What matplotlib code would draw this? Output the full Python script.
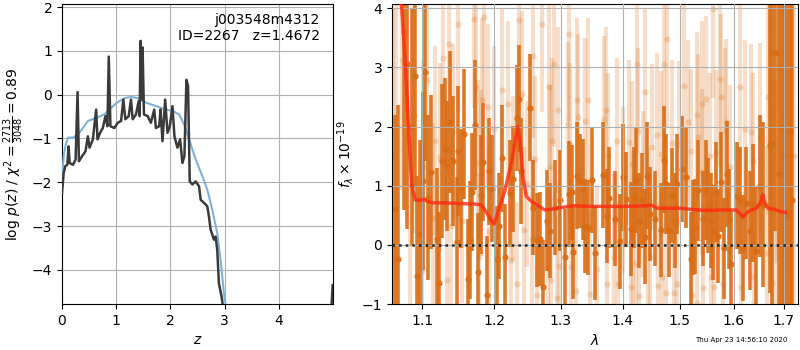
"""
Redshift fit summary: log p(z) on the left, grism spectrum + model on the right
"""
import numpy as np
import matplotlib
matplotlib.use('Agg')
import matplotlib.pyplot as plt
from matplotlib.ticker import FixedLocator, FuncFormatter, NullLocator

# ---- left panel: log p(z) ----
z_chi = [0.000, 0.031, 0.061, 0.098, 0.122, 0.141, 0.202, 0.251, 0.287, 0.312,
         0.373, 0.434, 0.477, 0.508, 0.569, 0.630, 0.654, 0.703, 0.752, 0.801,
         0.838, 0.862, 0.893, 0.966, 1.028, 1.089, 1.131, 1.168, 1.229, 1.272,
         1.303, 1.364, 1.413, 1.431, 1.450, 1.468, 1.486, 1.511, 1.578, 1.639,
         1.700, 1.731, 1.792, 1.817, 1.853, 1.902, 1.945, 1.988, 2.037, 2.073,
         2.128, 2.177, 2.220, 2.257, 2.294, 2.324, 2.355, 2.404, 2.465, 2.526,
         2.557, 2.618, 2.679, 2.709, 2.740, 2.801, 2.832, 2.862, 2.893, 2.942,
         2.985, 3.020, np.nan, 4.965, 4.990]
logp_chi = [-2.24, -1.79, -1.63, -1.60, -1.18, -1.56, -1.60, -1.48, 0.06, -1.52,
            -1.40, -1.29, -0.95, -1.21, -1.02, -0.34, -1.02, -0.87, -0.76, -0.49,
            -0.72, 0.87, -0.72, -0.76, -0.64, -0.60, -0.11, -0.56, -0.49, -0.11,
            -0.56, -0.45, -0.15, -0.49, 1.23, -0.11, 1.08, -0.45, -0.49, -0.64,
            -0.34, -0.76, -0.72, -0.34, -1.06, -0.11, -0.87, -0.72, -0.26, -0.95,
            -1.21, -1.02, -1.56, -1.40, 0.34, 0.20, -1.98, -2.05, -1.98, -2.09,
            -2.40, -2.47, -2.55, -2.78, -3.08, -3.31, -3.24, -3.54, -4.31, -4.61,
            -4.99, -5.40, np.nan, -4.90, -4.35]

z_prior = [0.000, 0.031, 0.061, 0.110, 0.202, 0.294, 0.385, 0.477, 0.630, 0.783,
           0.905, 1.028, 1.150, 1.272, 1.394, 1.547, 1.731, 1.914, 2.037, 2.159,
           2.251, 2.343, 2.465, 2.587, 2.679, 2.771, 2.862, 2.924, 2.985, 3.015,
           3.046]
logp_prior = [-1.94, -1.40, -1.18, -0.98, -0.98, -0.91, -0.76, -0.60, -0.53, -0.45,
              -0.30, -0.17, -0.08, -0.05, -0.08, -0.18, -0.26, -0.34, -0.37, -0.45,
              -0.68, -1.02, -1.48, -1.86, -2.17, -2.63, -3.16, -3.77, -4.53, -4.78,
              -5.15]

# ---- right panel: spectrum ----
wave_dark = [1.0650, 1.0687, 1.0765, 1.0800, 1.0869, 1.0908, 1.0934, 1.0974, 1.1013, 1.1040,
             1.1080, 1.1120, 1.1196, 1.1227, 1.1267, 1.1308, 1.1336, 1.1376, 1.1418, 1.1469,
             1.1487, 1.1528, 1.1570, 1.1621, 1.1653, 1.1681, 1.1723, 1.1761, 1.1804, 1.1836,
             1.1889, 1.1922, 1.1961, 1.2042, 1.2066, 1.2114, 1.2154, 1.2227, 1.2276, 1.2326,
             1.2360, 1.2390, 1.2529, 1.2565, 1.2626, 1.2676, 1.2726, 1.2778, 1.2829, 1.2906,
             1.2984, 1.3063, 1.3126, 1.3168, 1.3193, 1.3247, 1.3300, 1.3353, 1.3380, 1.3433,
             1.3488, 1.3541, 1.3677, 1.3733, 1.3776, 1.3870, 1.3954, 1.4009, 1.4067, 1.4152,
             1.4196, 1.4237, 1.4282, 1.4333, 1.4380, 1.4419, 1.4466, 1.4553, 1.4658, 1.4711,
             1.4759, 1.4805, 1.4858, 1.4912, 1.4948, 1.5045, 1.5118, 1.5195, 1.5237, 1.5268,
             1.5329, 1.5421, 1.5471, 1.5514, 1.5564, 1.5607, 1.5658, 1.5702, 1.5766, 1.5815,
             1.5880, 1.5911, 1.5957, 1.6072, 1.6130, 1.6181, 1.6247, 1.6312, 1.6377, 1.6444,
             1.6509, 1.6574, 1.6708, 1.6754, 1.6809, 1.6900, 1.6960, 1.7010, 1.7060, 1.7115,
             1.7171]
flux_dark = [0.60, -0.24, 3.59, 3.06, 1.99, 2.86, -0.53, 0.18, 1.08, 2.92,
             0.80, 1.23, 0.10, -0.64, 1.42, 1.62, 1.33, 2.08, 1.42, 0.04,
             1.59, 0.95, 1.88, -0.57, 0.08, 0.89, 2.03, -0.46, 0.85, 1.40,
             -0.85, 1.24, 0.95, -0.24, 0.32, 1.46, -0.21, 0.87, 1.11, 2.14,
             2.47, 1.25, 2.32, 0.63, 0.08, 0.10, -0.71, 0.41, 0.24, 0.63,
             0.75, -0.20, 0.86, 0.89, -0.12, 1.17, 1.08, 0.94, 0.32, 0.29,
             1.10, -0.14, 1.18, 0.49, 0.80, 0.44, 0.06, 1.14, 0.77, 0.27,
             0.80, 1.10, 0.41, 0.75, 0.14, 1.17, 0.52, 0.44, 0.25, 1.44,
             1.03, 0.25, 0.83, 0.41, 1.03, 1.28, 1.14, -0.24, 0.29, 0.31,
             0.92, 0.44, 0.93, 0.66, 0.41, 0.21, 0.89, 0.15, 1.06, -0.06,
             1.20, 0.44, -0.33, 0.83, 0.75, -0.05, 0.71, 0.24, 0.71, -0.10,
             1.00, 0.68, 1.68, 1.72, 3.24, 1.20, 2.00, 1.50, 0.49, 1.93,
             0.76]
err_dark = [1.60, 2.60, 3.00, 2.80, 2.00, 1.90, 1.70, 1.60, 1.50, 1.50,
            1.40, 1.30, 1.20, 1.20, 1.30, 1.20, 1.10, 1.20, 1.10, 1.10,
            1.10, 1.00, 1.10, 1.00, 1.00, 1.00, 1.10, 1.00, 1.00, 1.00,
            1.00, 0.90, 0.90, 0.90, 0.90, 0.90, 0.90, 0.90, 0.90, 0.90,
            0.90, 0.90, 0.90, 0.80, 0.80, 0.80, 0.80, 0.85, 0.80, 0.80,
            0.85, 0.80, 0.90, 0.80, 0.80, 0.90, 0.80, 0.85, 0.80, 0.80,
            0.90, 0.80, 0.90, 0.80, 0.85, 0.80, 0.80, 0.90, 0.80, 0.80,
            0.85, 0.90, 0.80, 0.80, 0.80, 0.90, 0.80, 0.80, 0.80, 0.90,
            0.85, 0.80, 0.80, 0.80, 0.85, 0.90, 0.85, 0.80, 0.80, 0.80,
            0.85, 0.80, 0.85, 0.80, 0.80, 0.80, 0.85, 0.80, 0.85, 0.85,
            0.90, 0.85, 0.90, 0.90, 0.90, 0.90, 0.95, 1.00, 1.00, 1.10,
            1.20, 1.40, 2.50, 2.80, 3.00, 3.50, 4.00, 4.00, 4.00, 4.50,
            4.50]

wave_light = [1.0620, 1.0660, 1.0735, 1.0840, 1.0890, 1.1004, 1.1017, 1.1062, 1.1142, 1.1173,
              1.1241, 1.1286, 1.1340, 1.1367, 1.1384, 1.1422, 1.1482, 1.1537, 1.1713, 1.1737,
              1.1770, 1.1784, 1.1805, 1.1818, 1.1855, 1.1913, 1.1923, 1.1994, 1.2115, 1.2202,
              1.2237, 1.2276, 1.2326, 1.2364, 1.2409, 1.2435, 1.2475, 1.2550, 1.2575, 1.2601,
              1.2626, 1.2711, 1.2803, 1.2818, 1.2837, 1.2852, 1.2864, 1.2891, 1.2932, 1.2958,
              1.2969, 1.3115, 1.3131, 1.3142, 1.3158, 1.3237, 1.3260, 1.3274, 1.3380, 1.3434,
              1.3461, 1.3570, 1.3690, 1.3723, 1.3736, 1.3761, 1.3855, 1.3910, 1.3927, 1.4011,
              1.4112, 1.4136, 1.4153, 1.4170, 1.4227, 1.4238, 1.4256, 1.4283, 1.4352, 1.4381,
              1.4439, 1.4468, 1.4508, 1.4585, 1.4613, 1.4661, 1.4687, 1.4714, 1.4749, 1.4772,
              1.4850, 1.4891, 1.4950, 1.4987, 1.5078, 1.5151, 1.5200, 1.5227, 1.5303, 1.5315,
              1.5333, 1.5396, 1.5410, 1.5425, 1.5475, 1.5550, 1.5569, 1.5612, 1.5626, 1.5663,
              1.5738, 1.5767, 1.5790, 1.5833, 1.5865, 1.5928, 1.6121, 1.6154, 1.6218, 1.6349,
              1.6382, 1.6401, 1.6513, 1.6659, 1.6683, 1.6713, 1.6743, 1.6763, 1.6814, 1.6850,
              1.6900, 1.6950, 1.7000, 1.7080, 1.7120, 1.7200]
flux_light = [1.50, 2.00, 3.12, 1.00, 2.20, -0.38, 1.31, 2.78, 0.46, 1.76,
              1.48, 3.16, -0.60, 3.40, 0.32, 1.90, 3.74, 0.41, 3.82, 2.66,
              1.38, -0.21, 1.21, 2.44, 3.85, 2.33, 0.24, 1.96, 2.61, 2.38,
              -0.26, 1.12, -0.67, 3.80, 2.55, 0.25, 1.03, 0.10, 3.20, 1.45,
              -0.84, 3.74, -0.37, 2.66, 1.31, -0.60, 1.76, 3.05, -0.89, 2.28,
              -0.36, 2.03, 3.57, 1.68, -0.37, -0.78, 2.44, 2.16, 2.09, 2.44,
              -0.83, -0.41, 2.13, 2.28, -0.67, 1.51, -0.21, 1.76, -0.66, 0.93,
              1.73, -0.72, 1.37, 0.18, -0.30, 3.05, 1.93, -0.86, 0.86, 2.59,
              0.24, -0.21, 1.65, 1.85, -0.69, 1.54, -0.55, 3.05, -0.82, 3.48,
              1.72, -0.82, -0.67, 1.71, 2.69, 2.07, 1.58, -0.84, 2.19, -0.98,
              1.82, 2.38, 1.23, -0.73, 2.47, 1.51, -0.55, 3.99, -0.71, 1.55,
              2.81, 2.50, -0.66, 1.93, 2.08, 1.31, 2.66, -0.72, 1.96, 1.90,
              1.41, -0.54, 1.81, -0.13, 2.50, 3.73, 2.61, -0.64, 0.28, 2.50,
              3.00, 1.50, 2.20, 1.00, 2.50, 1.50]
err_light = [2.50, 2.50, 2.20, 2.00, 2.00, 1.80, 1.80, 1.70, 1.60, 1.60,
             1.60, 1.50, 1.50, 1.50, 1.50, 1.50, 1.50, 1.40, 1.50, 1.50,
             1.40, 1.40, 1.40, 1.40, 1.50, 1.40, 1.40, 1.40, 1.40, 1.40,
             1.40, 1.40, 1.40, 1.50, 1.40, 1.40, 1.40, 1.40, 1.40, 1.40,
             1.40, 1.50, 1.40, 1.40, 1.40, 1.40, 1.40, 1.40, 1.40, 1.40,
             1.40, 1.40, 1.50, 1.40, 1.40, 1.40, 1.40, 1.40, 1.40, 1.40,
             1.40, 1.40, 1.40, 1.40, 1.40, 1.40, 1.40, 1.40, 1.40, 1.40,
             1.40, 1.40, 1.40, 1.40, 1.40, 1.50, 1.40, 1.40, 1.40, 1.40,
             1.40, 1.40, 1.40, 1.40, 1.40, 1.40, 1.40, 1.50, 1.40, 1.50,
             1.40, 1.40, 1.40, 1.40, 1.40, 1.40, 1.40, 1.40, 1.40, 1.40,
             1.40, 1.40, 1.40, 1.40, 1.40, 1.40, 1.40, 1.50, 1.40, 1.40,
             1.50, 1.40, 1.40, 1.40, 1.40, 1.40, 1.50, 1.50, 1.50, 1.50,
             1.50, 1.50, 1.60, 1.80, 2.00, 2.20, 2.40, 2.40, 2.50, 2.80,
             3.00, 3.00, 3.00, 3.00, 3.00, 3.00]

wave_model = [1.0700, 1.0735, 1.0770, 1.0800, 1.0830, 1.0865, 1.0910, 1.0970, 1.1030, 1.1080,
              1.1150, 1.1300, 1.1500, 1.1700, 1.1800, 1.1850, 1.1900, 1.1950, 1.1996, 1.2050,
              1.2150, 1.2250, 1.2310, 1.2340, 1.2380, 1.2420, 1.2470, 1.2550, 1.2650, 1.2750,
              1.2850, 1.3000, 1.3200, 1.3500, 1.4000, 1.4400, 1.4500, 1.4600, 1.5000, 1.5200,
              1.5500, 1.5800, 1.6050, 1.6120, 1.6180, 1.6230, 1.6300, 1.6450, 1.6530, 1.6570,
              1.6620, 1.6680, 1.6800, 1.6950, 1.7030]
flux_model = [4.30, 4.00, 3.30, 2.60, 1.80, 1.00, 0.76, 0.75, 0.77, 0.73,
              0.71, 0.71, 0.70, 0.69, 0.68, 0.62, 0.52, 0.42, 0.35, 0.55,
              0.90, 1.40, 1.80, 2.00, 1.75, 1.15, 0.82, 0.73, 0.66, 0.59,
              0.60, 0.63, 0.66, 0.65, 0.65, 0.66, 0.67, 0.62, 0.62, 0.60,
              0.58, 0.59, 0.59, 0.53, 0.47, 0.52, 0.57, 0.62, 0.72, 0.85,
              0.70, 0.62, 0.60, 0.56, 0.55]

lam_ticks = [1.1, 1.2, 1.3, 1.4, 1.5, 1.6, 1.7]

plt.rcParams['font.family'] = ['DejaVu Sans']
plt.rcParams['mathtext.fontset'] = 'dejavusans'

fig = plt.figure(figsize=(8, 3.5), dpi=100)
ax1 = fig.add_axes([0.0775, 0.1314, 0.339, 0.857])
ax2 = fig.add_axes([0.49, 0.1314, 0.5075, 0.857])

# left: p(z)
ax1.plot(z_prior, logp_prior, color='#7fb2d8', lw=1.5, zorder=3)
ax1.plot(z_chi, logp_chi, color='#3a3a3a', lw=1.8, zorder=4)
ax1.set_xlim(0, 5.0)
ax1.set_ylim(-4.78, 2.07)
ax1.set_xticks([0, 1, 2, 3, 4])
ax1.set_yticks([-4, -3, -2, -1, 0, 1, 2])
ax1.grid(True)
ax1.set_xlabel('$z$')
ax1.set_ylabel(r'log $p(z)$ / $\chi^2=\frac{2713}{3048}=0.89$')
ax1.text(0.95, 0.97, 'j003548m4312\nID=2267   z=1.4672', transform=ax1.transAxes,
         ha='right', va='top', fontsize=10)

# right: spectrum
dark = '#d96c14'
ax2.errorbar(wave_light, flux_light, yerr=err_light, fmt='o', color=dark, alpha=0.22,
             ms=4.5, elinewidth=3.0, mew=0, zorder=1)
ax2.errorbar(wave_dark, flux_dark, yerr=err_dark, fmt='o', color=dark, alpha=0.9,
             ms=4.5, elinewidth=2.6, mew=0, zorder=2)
ax2.plot(wave_model, flux_model, color='#ff2a10', lw=2.5, alpha=0.8, zorder=4)
ax2.axhline(0, color='k', ls=':', lw=1.8, alpha=0.8, zorder=5)

ax2.set_xscale('log')
ax2.set_xlim(1.061, 1.729)
ax2.set_ylim(-1, 4.07)
ax2.xaxis.set_major_locator(FixedLocator(lam_ticks))
ax2.xaxis.set_major_formatter(FuncFormatter(lambda x, _: f'{x:.1f}'))
ax2.xaxis.set_minor_locator(NullLocator())
ax2.set_yticks([-1, 0, 1, 2, 3, 4])
ax2.set_axisbelow(False)
ax2.grid(True, zorder=3)
ax2.set_xlabel(r'$\lambda$')
ax2.set_ylabel(r'$f_\lambda \times 10^{-19}$')

fig.text(0.927, 0.028, 'Thu Apr 23 14:56:10 2020', ha='center', va='center', fontsize=5)

fig.savefig('out.png', dpi=100)
